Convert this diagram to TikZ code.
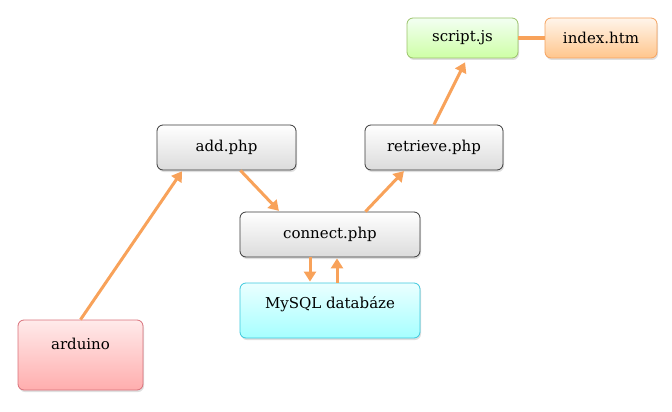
\documentclass[tikz,border=0pt]{standalone}
\usepackage{fontspec}
\setmainfont{DejaVu Serif}
\usepackage{tikz}
\usetikzlibrary{arrows.meta,shadows}
\definecolor{arrowcol}{HTML}{F8A25A}
\definecolor{grayline}{HTML}{3A3A3A}
\definecolor{greenline}{HTML}{9BC36A}
\definecolor{orangeline}{HTML}{F5A25E}
\definecolor{cyanline}{HTML}{3CC8DD}
\definecolor{pinkline}{HTML}{D9707A}
\tikzset{
  box/.style={draw, rounded corners=6pt, line width=0.8pt, font=\fontsize{15}{18}\selectfont,
    drop shadow={shadow xshift=1pt, shadow yshift=-2pt, opacity=0.25}},
  graybox/.style={box, draw=grayline, top color=white, bottom color=black!14},
  link/.style={draw=arrowcol, line width=3pt, -{Triangle[length=10pt,width=12pt]}, shorten >=1pt}
}
\begin{document}
\begin{tikzpicture}[x=1pt,y=-1pt]
\useasboundingbox (0,0) rectangle (672,412);
\node[box, draw=greenline, top color=green!5, bottom color=green!55!yellow!35, minimum width=111, minimum height=40] (script) at (462.5,38) {script.js};
\node[box, draw=orangeline, top color=orange!8, bottom color=orange!45, minimum width=112, minimum height=40] (index) at (601,38) {index.htm};
\node[graybox, minimum width=139, minimum height=45] (add) at (226.5,147.5) {add.php};
\node[graybox, minimum width=138, minimum height=45] (retrieve) at (434,147.5) {retrieve.php};
\node[graybox, minimum width=180, minimum height=45] (connect) at (330,234.5) {connect.php};
\node[box, draw=cyanline, top color=cyan!8, bottom color=cyan!35, minimum width=180, minimum height=55, text depth=16pt] (mysql) at (330,310.5) {MySQL databáze};
\node[box, draw=pinkline, top color=red!8, bottom color=red!32, minimum width=125, minimum height=70, text depth=22pt] (arduino) at (80.5,355) {arduino};
\draw[draw=arrowcol, line width=4pt] (script.east) -- (index.west);
\draw[link] (arduino.north) -- ([xshift=26pt]add.south west);
\draw[link] ([xshift=-56pt]add.south east) -- ([xshift=40pt]connect.north west);
\draw[link] ([xshift=-55pt]connect.north east) -- ([xshift=40pt]retrieve.south west);
\draw[link] (retrieve.north) -- ([xshift=3pt,yshift=-3pt]script.south);
\draw[link] ([xshift=-20pt]connect.south) -- ([xshift=-20pt]mysql.north);
\draw[link] ([xshift=7pt]mysql.north) -- ([xshift=7pt]connect.south);
\end{tikzpicture}
\end{document}
